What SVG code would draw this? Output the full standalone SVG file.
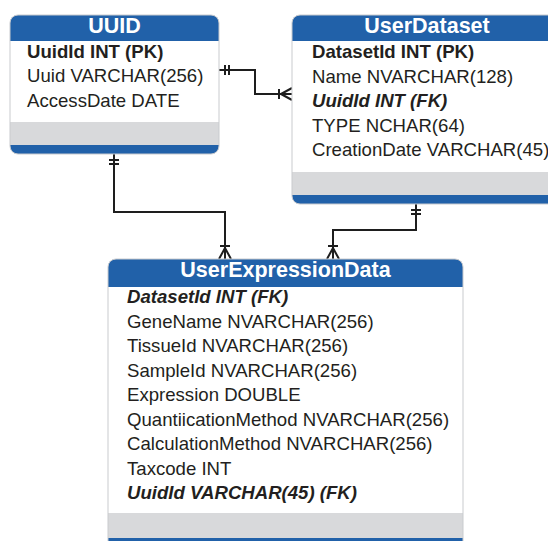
<svg xmlns="http://www.w3.org/2000/svg" width="548" height="541" viewBox="0 0 548 541">
  <style>
    .hdr { fill: #2161a9; }
    .body { fill: #ffffff; }
    .band { fill: #d8d9db; }
    .edge { fill: none; stroke: #c9cbce; stroke-width: 1; }
    .title { font-family: "Liberation Sans", Arial, Helvetica, sans-serif; font-size: 21.5px; font-weight: bold; fill: #ffffff; text-anchor: middle; }
    .col { font-family: "Liberation Sans", Arial, Helvetica, sans-serif; font-size: 18.6px; fill: #231f20; }
    .pk { font-weight: bold; }
    .fk { font-weight: bold; font-style: italic; }
    .rel { fill: none; stroke: #1e1e1e; stroke-width: 2; marker-start: url(#one-one); marker-end: url(#many); }
  </style>
  <defs>
    <!-- mandatory one: two bars next to the parent table -->
    <marker id="one-one" markerUnits="userSpaceOnUse" markerWidth="20" markerHeight="20" refX="0" refY="0" orient="auto" overflow="visible">
      <path d="M6,-5 V5 M10,-5 V5" stroke="#1e1e1e" stroke-width="2" fill="none"/>
    </marker>
    <!-- mandatory many: bar plus crow's foot at the child table -->
    <marker id="many" markerUnits="userSpaceOnUse" markerWidth="20" markerHeight="20" refX="0" refY="0" orient="auto" overflow="visible">
      <path d="M-13,-5 V5 M-11,0 L0,-6 M-11,0 L0,6" stroke="#1e1e1e" stroke-width="2" fill="none"/>
    </marker>
  </defs>

  <rect width="548" height="541" fill="#ffffff"/>

  <!-- relationships -->
  <g id="connectors">
    <path class="rel" d="M219,70 H255 V94 H292"/>
    <path class="rel" d="M114,154 V212 H225 V259"/>
    <path class="rel" d="M416,204 V230 H333 V259"/>
  </g>

  <g id="UUID">
    <rect class="hdr" x="10" y="15" width="209" height="139" rx="8"/>
    <rect class="body" x="10" y="41" width="209" height="81"/>
    <rect class="band" x="10" y="122" width="209" height="23"/>
    <rect class="edge" x="10" y="15" width="209" height="139" rx="8"/>
    <text class="title" x="114.5" y="33">UUID</text>
    <text class="col pk" x="27" y="57.5">UuidId INT (PK)</text>
    <text class="col" x="27" y="82">Uuid VARCHAR(256)</text>
    <text class="col" x="27" y="106.5">AccessDate DATE</text>
  </g>

  <g id="UserDataset">
    <rect class="hdr" x="292" y="15" width="270" height="189" rx="8"/>
    <rect class="body" x="292" y="41" width="270" height="131"/>
    <rect class="band" x="292" y="172" width="270" height="23"/>
    <rect class="edge" x="292" y="15" width="270" height="189" rx="8"/>
    <text class="title" x="427" y="33">UserDataset</text>
    <text class="col pk" x="312" y="58">DatasetId INT (PK)</text>
    <text class="col" x="312" y="82.5">Name NVARCHAR(128)</text>
    <text class="col fk" x="312" y="107">UuidId INT (FK)</text>
    <text class="col" x="312" y="131.5">TYPE NCHAR(64)</text>
    <text class="col" x="312" y="156">CreationDate VARCHAR(45)</text>
  </g>

  <g id="UserExpressionData">
    <rect class="hdr" x="108" y="259" width="355" height="295" rx="8"/>
    <rect class="body" x="108" y="287" width="355" height="226"/>
    <rect class="band" x="108" y="513" width="355" height="25"/>
    <rect class="edge" x="108" y="259" width="355" height="295" rx="8"/>
    <text class="title" x="285.5" y="277">UserExpressionData</text>
    <text class="col fk" x="127" y="303">DatasetId INT (FK)</text>
    <text class="col" x="127" y="327.5">GeneName NVARCHAR(256)</text>
    <text class="col" x="127" y="352">TissueId NVARCHAR(256)</text>
    <text class="col" x="127" y="376.5">SampleId NVARCHAR(256)</text>
    <text class="col" x="127" y="401">Expression DOUBLE</text>
    <text class="col" x="127" y="425.5">QuantiicationMethod NVARCHAR(256)</text>
    <text class="col" x="127" y="450">CalculationMethod NVARCHAR(256)</text>
    <text class="col" x="127" y="474.5">Taxcode INT</text>
    <text class="col fk" x="127" y="499">UuidId VARCHAR(45) (FK)</text>
  </g>
</svg>
